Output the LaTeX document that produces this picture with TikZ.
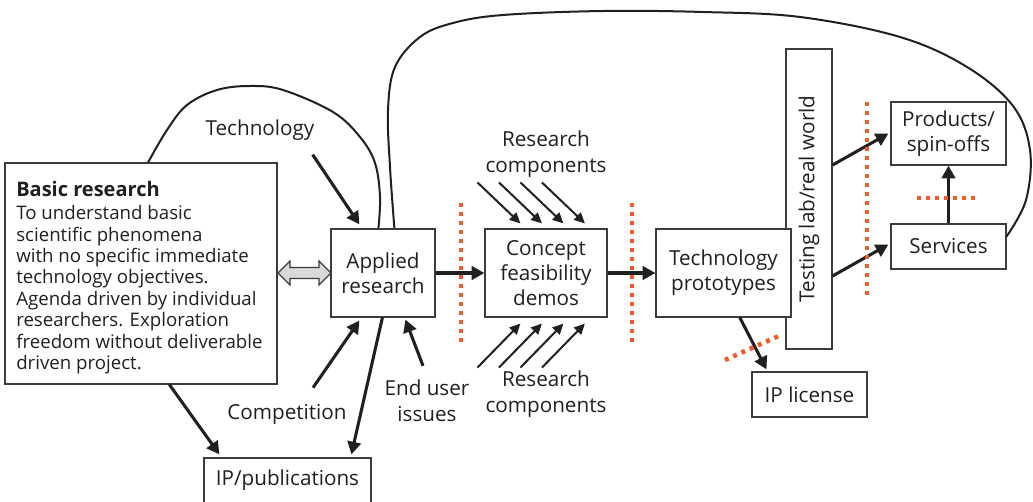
\documentclass[tikz,border=0pt]{standalone}
\usepackage{fontspec}
\setmainfont{Open Sans}
\usetikzlibrary{arrows.meta,calc}
\definecolor{ink}{RGB}{35,31,32}
\definecolor{boxline}{RGB}{60,60,60}
\definecolor{cut}{RGB}{241,90,41}
\definecolor{twin}{RGB}{215,217,218}
\begin{document}
\begin{tikzpicture}[x=0.75pt,y=-0.75pt,
  box/.style={draw=boxline, line width=0.9pt, fill=white, text=ink, inner sep=0pt, align=center,
    font=\fontsize{15.5}{18.7}\selectfont},
  flow/.style={draw=ink, line width=2.3pt, -{Triangle[length=9.5pt,width=10pt]}},
  feed/.style={draw=ink, line width=1.5pt, -{Triangle[length=8pt,width=7.5pt]}},
  loopline/.style={draw=ink, line width=1.5pt},
  cutline/.style={draw=cut, line width=3.4pt, dash pattern=on 3pt off 3.75pt},
  lbl/.style={text=ink, align=center, inner sep=0pt, font=\fontsize{15.5}{19.4}\selectfont}]

\useasboundingbox (0,0) rectangle (1033,502);

% ---------- boxes ----------
\node[box, minimum width=272*0.75pt, minimum height=221*0.75pt] (basic) at (141,273.5) {};
\node[lbl, align=left, anchor=north west, font=\fontsize{14}{16.05}\selectfont] (btext) at (16,181.5)
  {{\fontsize{15}{18}\selectfont\bfseries Basic research}\\[1pt]
   To understand basic\\
   scientific phenomena\\
   with no specific immediate\\
   technology objectives.\\
   Agenda driven by individual\\
   researchers. Exploration\\
   freedom without deliverable\\
   driven project.};

\node[box, minimum width=104*0.75pt, minimum height=88*0.75pt] (app) at (383,273) {Applied\\research};
\node[box, minimum width=122*0.75pt, minimum height=88*0.75pt] (cfd) at (546,273) {Concept\\feasibility\\demos};
\node[box, rotate=90, minimum width=300*0.75pt, minimum height=46*0.75pt] (test) at (809,199) {Testing lab/real world};
\node[box, minimum width=135*0.75pt, minimum height=88*0.75pt] (tp) at (723.5,273) {Technology\\prototypes};
\node[box, minimum width=115*0.75pt, minimum height=45*0.75pt] (ipl) at (809.5,394.5) {IP license};
\node[box, minimum width=115*0.75pt, minimum height=63*0.75pt] (prod) at (948.5,133.5) {Products/\\spin-offs};
\node[box, minimum width=115*0.75pt, minimum height=45*0.75pt] (serv) at (948.5,246.5) {Services};
\node[box, minimum width=167*0.75pt, minimum height=48*0.75pt] (ippub) at (287.5,482) {};
\node[lbl] (ippubtext) at (287.5,480) {IP/publications};

% ---------- labels ----------
\node[lbl] (tech) at (260,130) {Technology};
\node[lbl] (rctop) at (546,154) {Research\\components};
\node[lbl] (rcbot) at (546,394) {Research\\components};
\node[lbl] (comp) at (287,414) {Competition};
\node[lbl] (enduser) at (427,401) {End user\\issues};

% ---------- double arrow ----------
\draw[draw=boxline, line width=0.9pt, fill=twin, line join=miter]
  (278,273) -- (290,261) -- (290,267.5) -- (319,267.5) -- (319,261) -- (331,273)
  -- (319,285) -- (319,278.5) -- (290,278.5) -- (290,285) -- cycle;

% ---------- loops ----------
\coordinate (l1) at ($(basic.north west)!0.526!(basic.north east)$);
\coordinate (l2) at ($(app.north west)+(48,0)$);
\draw[loopline] plot[smooth, tension=0.6] coordinates
  {(l1) (167,130) (187,105) (217,90) (250,86) (283,90) (333,112) (360,137) (375,163) (380,197) (l2)};

\coordinate (g1) at ($(app.north west)+(64,0)$);
\coordinate (g2) at ($(serv.north east)+(0,13)$);
\draw[loopline] plot[smooth, tension=0.6] coordinates
  {(g1) (390,167) (388,110) (395,67) (420,37) (453,23) (503,15) (603,11) (703,12) (800,17)
   (900,37) (967,67) (1013,106) (1030,150) (1026,200) (g2)};

% ---------- main flow ----------
\draw[flow] (app.east) -- (cfd.west);
\draw[flow] (cfd.east) -- (tp.west);
\draw[flow] ($(tp.south west)!0.62!(tp.south east)$) -- ($(ipl.north west)!0.13!(ipl.north east)+(0,-2)$);
\draw[flow] ($(test.south)+(0,-34)$) -- ($(prod.west)+(-2,0)$);
\draw[flow] ($(test.south)+(0,77)$) -- ($(serv.west)+(-2,-2)$);
\draw[flow] (serv.north) -- (prod.south);

% ---------- influences ----------
\draw[flow] ($(tech.south east)+(-2,14)$) -- ($(app.north west)+(29,-4)$);
\draw[flow] ($(comp.north)+(26,-16)$) -- ($(app.south west)+(29,3)$);
\draw[flow] ($(enduser.north)+(-4,-14)$) -- ($(app.south west)+(75,2)$);
\draw[flow] ($(app.south west)+(52,0)$) -- ($(ippub.north west)+(148,-3)$);
\draw[flow] ($(basic.south west)+(165,0)$) -- ($(ippub.north west)+(16,-3)$);

% ---------- research components ----------
\foreach \i in {0,1,2,3} {
  \draw[feed] ($(cfd.north west)+(-7+21.5*\i,-46)$) -- ($(cfd.north west)+(36+21.5*\i,-5)$);
  \draw[feed] ($(cfd.south west)+(-7+21.5*\i,50)$) -- ($(cfd.south west)+(36+21.5*\i,6)$);
}

% ---------- cut lines ----------
\draw[cutline] (461,203) -- (461,347);
\draw[cutline] (632,203) -- (632,347);
\draw[cutline] (867,102) -- (867,300);
\draw[cutline] (917,198) -- (977,198);
\draw[cutline] (725,360) -- (781,335);
\end{tikzpicture}
\end{document}
